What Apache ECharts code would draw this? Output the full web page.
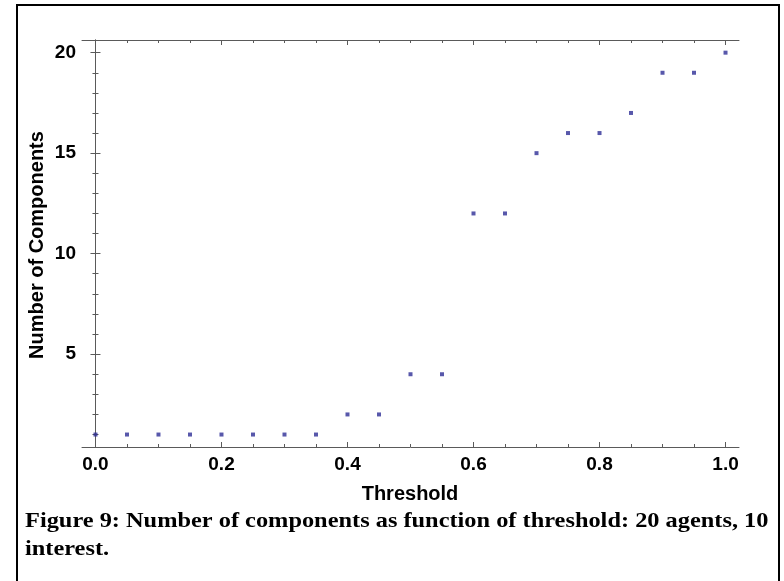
<!DOCTYPE html>
<html>
<head>
<meta charset="utf-8">
<script src="https://cdn.jsdelivr.net/npm/echarts@6/dist/echarts.min.js"></script>
<style>
  html, body { margin: 0; padding: 0; background: #fff; }
  #main { width: 784px; height: 581px; }
</style>
</head>
<body>
<div id="main"></div>
<script>
// data
const thresholds = [0, 0.05, 0.1, 0.15, 0.2, 0.25, 0.3, 0.35, 0.4, 0.45, 0.5,
                    0.55, 0.6, 0.65, 0.7, 0.75, 0.8, 0.85, 0.9, 0.95, 1.0]
const components = [1, 1, 1, 1, 1, 1, 1, 1, 2, 2, 4, 4, 12, 12, 15, 16, 16, 17, 19, 19, 20]

// tick positions
const xMajorTicks = [0, 0.2, 0.4, 0.6, 0.8, 1.0]
const xMinorTicks = [0.05, 0.1, 0.15, 0.25, 0.3, 0.35, 0.45, 0.5, 0.55, 0.65, 0.7, 0.75, 0.85, 0.9, 0.95]
const yMajorTicks = [5, 10, 15, 20]
const yMinorTicks = [1, 2, 3, 4, 6, 7, 8, 9, 11, 12, 13, 14, 16, 17, 18, 19]

const xTitle = 'Threshold'
const yTitle = 'Number of Components'
const caption1 = 'Figure 9: Number of components as function of threshold: 20 agents, 10'
const caption2 = 'interest.'

const axisColor = '#5a5a5a'
const labelFont = {
    fontFamily: 'Liberation Sans',
    fontWeight: 'bold',
    fontSize: 19,
    color: '#000'
}

function makeAxis(kind, position, ticks, len, withLabels, withLine) {
    const ax = {
        type: 'value',
        position: position,
        gridIndex: 0,
        min: kind === 'x' ? -0.0214 : 0.38,
        max: kind === 'x' ? 1.0214 : 20.63,
        splitLine: { show: false },
        axisLine: { show: withLine, lineStyle: { color: axisColor, width: 1 } },
        axisTick: {
            show: true,
            inside: true,
            length: len,
            customValues: ticks,
            lineStyle: { color: axisColor, width: 1 }
        },
        axisLabel: { show: false, customValues: ticks }
    }
    if (withLabels) {
        ax.axisLabel = Object.assign({
            show: true,
            customValues: ticks,
            margin: kind === 'x' ? 8 : 6,
            formatter: v => kind === 'x' ? v.toFixed(1) : String(v)
        }, labelFont)
    }
    return ax
}

const chart = echarts.init(document.getElementById('main'))

const captionStyle = {
    verticalAlign: 'middle',
    fontFamily: 'Liberation Serif',
    fontWeight: 'bold',
    fontSize: 21,
    fill: '#000'
}

chart.setOption({
    animation: false,
    backgroundColor: '#fff',
    grid: { left: 82, top: 40, right: 45, bottom: 134, containLabel: false },
    xAxis: [
        makeAxis('x', 'bottom', xMajorTicks, 5, true, true),
        makeAxis('x', 'bottom', xMinorTicks, 3, false, false),
        makeAxis('x', 'top', xMajorTicks, 5, false, true),
        makeAxis('x', 'top', xMinorTicks, 3, false, false)
    ],
    yAxis: [
        makeAxis('y', 'left', yMajorTicks, 5, true, true),
        makeAxis('y', 'left', yMinorTicks, 3, false, false),
        makeAxis('y', 'right', yMajorTicks, 5, false, true),
        makeAxis('y', 'right', yMinorTicks, 3, false, false)
    ],
    series: [
        {
            type: 'scatter',
            xAxisIndex: 0,
            yAxisIndex: 0,
            symbol: 'rect',
            symbolSize: 4,
            itemStyle: { color: '#2e2e96' },
            data: thresholds.map((t, i) => [t, components[i]])
        }
    ],
    graphic: [
        {
            type: 'rect',
            shape: { x: 17, y: 5, width: 762, height: 620 },
            style: { fill: 'none', stroke: '#000', lineWidth: 2 }
        },
        {
            type: 'text',
            x: 410,
            y: 494,
            style: Object.assign({ text: xTitle, align: 'center', verticalAlign: 'middle' }, labelFont, { fontSize: 20 })
        },
        {
            type: 'text',
            x: 37,
            y: 245,
            rotation: Math.PI / 2,
            style: Object.assign({ text: yTitle, align: 'center', verticalAlign: 'middle' }, labelFont, { fontSize: 20 })
        },
        {
            type: 'text',
            x: 25,
            y: 522,
            scaleX: 1.16,
            style: Object.assign({ text: caption1 }, captionStyle)
        },
        {
            type: 'text',
            x: 25,
            y: 550,
            scaleX: 1.16,
            style: Object.assign({ text: caption2 }, captionStyle)
        }
    ]
})
</script>
</body>
</html>
